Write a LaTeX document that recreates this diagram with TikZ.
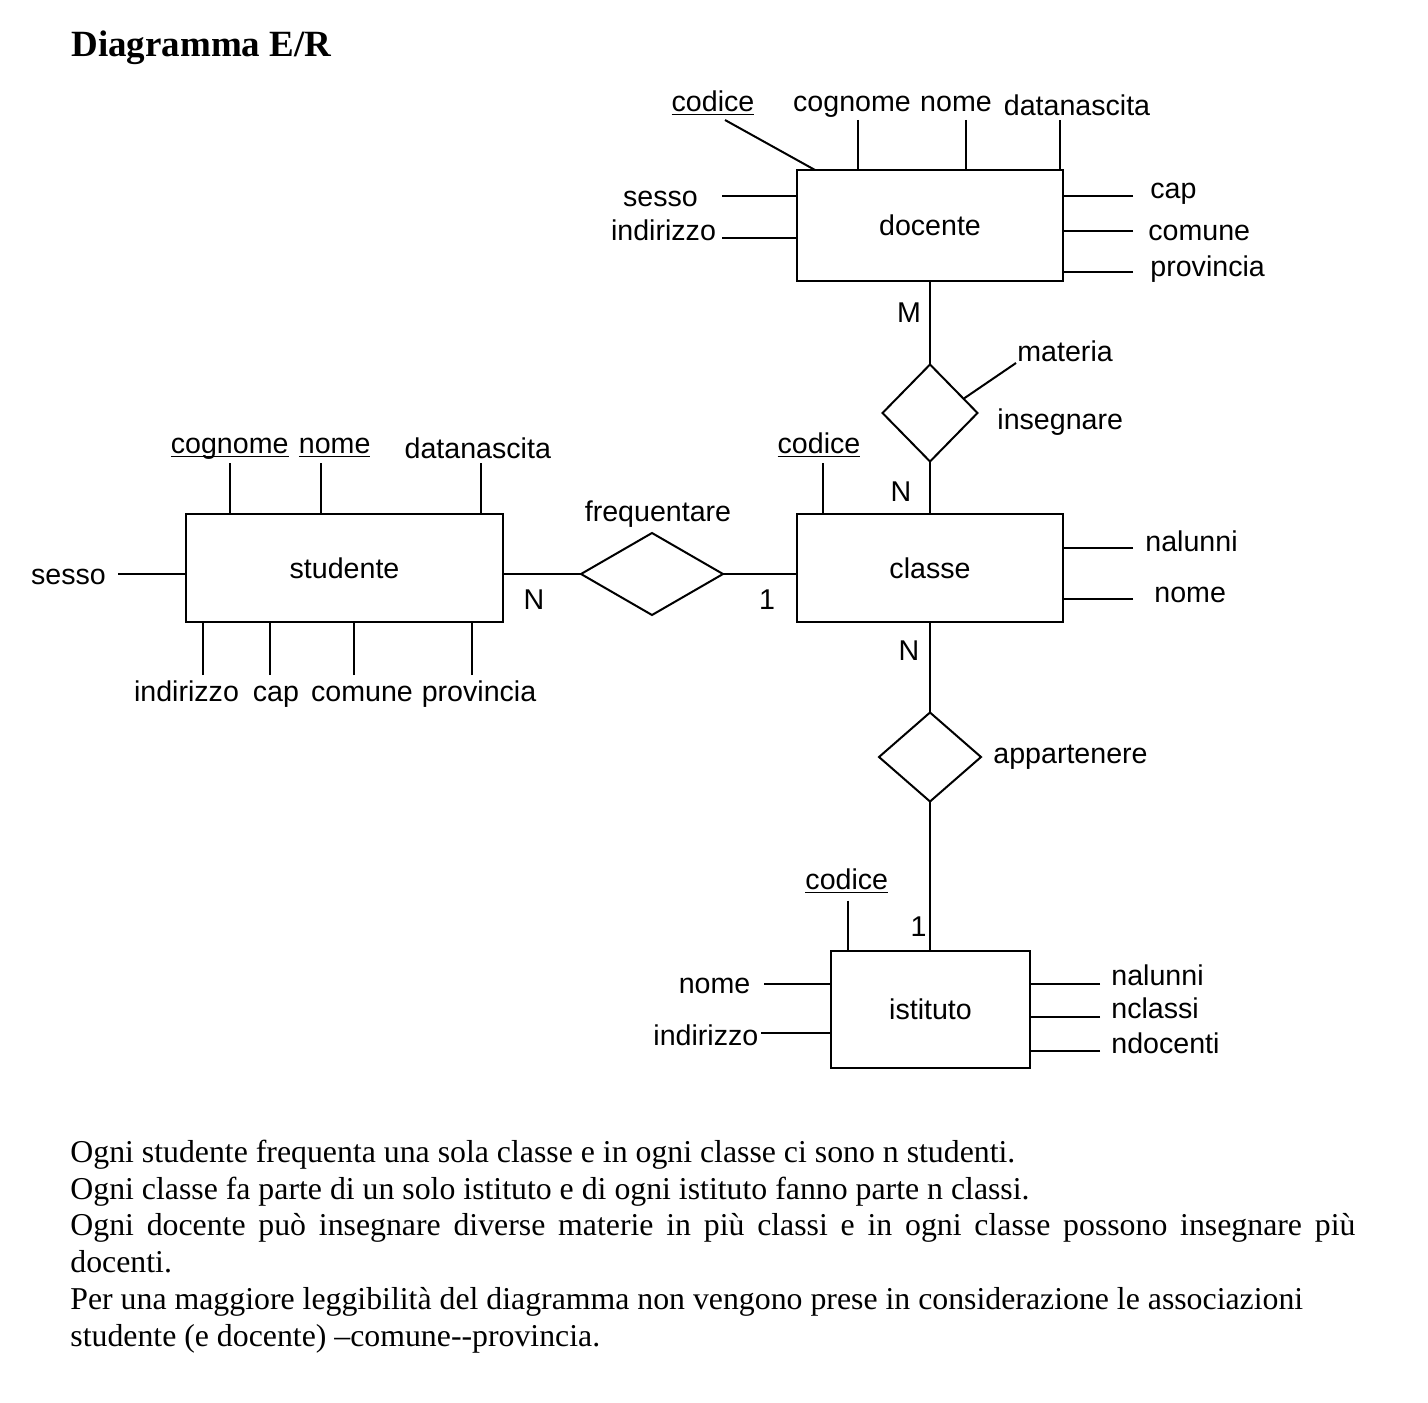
\documentclass[tikz,border=0pt]{standalone}
\usepackage{fontspec}
\setmainfont{Liberation Serif}
\setsansfont{Liberation Sans}
\usetikzlibrary{shapes.geometric}
\newcommand{\keyattr}[1]{\underline{\smash{#1}}}

\begin{document}
\begin{tikzpicture}[
    x=0.5pt, y=-0.5pt,
    entity/.style={rectangle, draw, line width=1pt, inner sep=0pt, outer sep=0pt, font=\sffamily\fontsize{14.3}{17}\selectfont},
    relation/.style={diamond, draw, line width=1pt, inner sep=0pt, outer sep=0pt},
    attr/.style={inner sep=0pt, anchor=base, font=\sffamily\fontsize{14.3}{17}\selectfont},
    link/.style={line width=1pt}
]
\useasboundingbox (0,0) rectangle (1428,1402);

% Title
\node[anchor=base west, inner sep=0pt, font=\bfseries\fontsize{18.5}{22}\selectfont] (title) at (71,56.7) {Diagramma E/R};

% Entities
\node[entity, minimum width=133pt, minimum height=55.5pt] (docente) at (930,225.5) {docente};
\node[entity, minimum width=133pt, minimum height=54pt] (classe) at (930,568) {classe};
\node[entity, minimum width=158.5pt, minimum height=54pt] (studente) at (344.5,568) {studente};
\node[entity, minimum width=99.5pt, minimum height=58.5pt] (istituto) at (930.5,1009) {istituto};

% Relationships
\node[relation, minimum width=47.5pt, minimum height=48.5pt] (insegnare) at (930,413) {};
\node[relation, minimum width=71pt, minimum height=41pt] (frequentare) at (652,574) {};
\node[relation, minimum width=51pt, minimum height=44.5pt] (appartenere) at (930,757) {};

\node[attr, anchor=base west] (linsegnare) at (997,429.3) {insegnare};
\node[attr] (lfrequentare) at (658,521.7) {frequentare};
\node[attr, anchor=base west] (lappartenere) at (993,763.3) {appartenere};
\node[attr, anchor=base west] (materia) at (1017,361.7) {materia};

% Cardinalities
\node[attr] (cM) at (909,322.7) {M};
\node[attr] (cN1) at (901,501) {N};
\node[attr] (cN2) at (534,609.3) {N};
\node[attr] (c1a) at (767,609) {1};
\node[attr] (cN3) at (909,660) {N};
\node[attr] (c1b) at (918.5,936.7) {1};

% Relationship lines
\draw[link] (docente.south) -- (insegnare.north);
\draw[link] (insegnare.south) -- (classe.north);
\draw[link] (classe.south) -- (appartenere.north);
\draw[link] (appartenere.south) -- (appartenere.south |- istituto.north);
\draw[link] (frequentare.west -| studente.east) -- (frequentare.west);
\draw[link] (frequentare.east) -- (frequentare.east -| classe.west);
\coordinate (materiaE) at (1016,363);
\draw[link] (insegnare.23) -- (materiaE);

% Attributes docente
\node[attr] (dcodice) at (713,112) {\keyattr{codice}};
\node[attr] (dcognome) at (852,112) {cognome};
\node[attr] (dnome) at (956,112) {nome};
\node[attr] (ddatanascita) at (1077,115) {datanascita};
\node[attr] (dsesso) at (660.5,206) {sesso};
\node[attr] (dindirizzo) at (663.5,240.7) {indirizzo};
\node[attr, anchor=base west] (dcap) at (1150,198) {cap};
\node[attr, anchor=base west] (dcomune) at (1148,240.7) {comune};
\node[attr, anchor=base west] (dprovincia) at (1150,276.7) {provincia};

\coordinate (dcodiceE) at (725,120);
\coordinate (dcognomeE) at (858,120);
\coordinate (dnomeE) at (966,120);
\coordinate (ddatanascitaE) at (1060,120);
\coordinate (dsessoE) at (722,196);
\coordinate (dindirizzoE) at (722,238);
\coordinate (dcapE) at (1133,196);
\coordinate (dcomuneE) at (1133,231);
\coordinate (dprovinciaE) at (1133,272);
\draw[link] (dcodiceE) -- ([xshift=9pt]docente.north west);
\draw[link] (dcognomeE) -- (dcognomeE |- docente.north);
\draw[link] (dnomeE) -- (dnomeE |- docente.north);
\draw[link] (ddatanascitaE) -- (ddatanascitaE |- docente.north);
\draw[link] (dsessoE) -- (dsessoE -| docente.west);
\draw[link] (dindirizzoE) -- (dindirizzoE -| docente.west);
\draw[link] (dcapE) -- (dcapE -| docente.east);
\draw[link] (dcomuneE) -- (dcomuneE -| docente.east);
\draw[link] (dprovinciaE) -- (dprovinciaE -| docente.east);

% Attributes classe
\node[attr] (ccodice) at (819,453.3) {\keyattr{codice}};
\node[attr, anchor=base west] (cnalunni) at (1145,551.7) {nalunni};
\node[attr, anchor=base west] (cnome) at (1154,602.7) {nome};
\coordinate (ccodiceE) at (823,463);
\coordinate (cnalunniE) at (1133,548);
\coordinate (cnomeE) at (1133,599);
\draw[link] (ccodiceE) -- (ccodiceE |- classe.north);
\draw[link] (cnalunniE) -- (cnalunniE -| classe.east);
\draw[link] (cnomeE) -- (cnomeE -| classe.east);

% Attributes studente
\node[attr] (scognome) at (229.7,453.3) {\keyattr{cognome}};
\node[attr] (snome) at (334.7,453.3) {\keyattr{nome}};
\node[attr] (sdatanascita) at (477.8,458.3) {datanascita};
\node[attr] (ssesso) at (68.5,584.3) {sesso};
\node[attr] (sindirizzo) at (186.5,701.7) {indirizzo};
\node[attr] (scap) at (276,701.7) {cap};
\node[attr] (scomune) at (362,701.7) {comune};
\node[attr] (sprovincia) at (479,701.7) {provincia};
\coordinate (scognomeE) at (230.4,463);
\coordinate (snomeE) at (320.7,463);
\coordinate (sdatanascitaE) at (480.7,463);
\coordinate (ssessoE) at (118,574.3);
\coordinate (sindirizzoE) at (202.6,675);
\coordinate (scapE) at (269.6,675);
\coordinate (scomuneE) at (354.4,675);
\coordinate (sprovinciaE) at (471.5,675);
\draw[link] (scognomeE) -- (scognomeE |- studente.north);
\draw[link] (snomeE) -- (snomeE |- studente.north);
\draw[link] (sdatanascitaE) -- (sdatanascitaE |- studente.north);
\draw[link] (ssessoE) -- (ssessoE -| studente.west);
\draw[link] (sindirizzoE) -- (sindirizzoE |- studente.south);
\draw[link] (scapE) -- (scapE |- studente.south);
\draw[link] (scomuneE) -- (scomuneE |- studente.south);
\draw[link] (sprovinciaE) -- (sprovinciaE |- studente.south);

% Attributes istituto
\node[attr] (icodice) at (846.8,889.3) {\keyattr{codice}};
\node[attr] (inome) at (714.6,993.3) {nome};
\node[attr] (iindirizzo) at (705.9,1045) {indirizzo};
\node[attr, anchor=base west] (inalunni) at (1111,985.7) {nalunni};
\node[attr, anchor=base west] (inclassi) at (1111,1018.3) {nclassi};
\node[attr, anchor=base west] (indocenti) at (1111,1053.3) {ndocenti};
\coordinate (icodiceE) at (848,900.7);
\coordinate (inomeE) at (764,984.3);
\coordinate (iindirizzoE) at (761,1032.7);
\coordinate (inalunniE) at (1100,984.3);
\coordinate (inclassiE) at (1100,1017.3);
\coordinate (indocentiE) at (1100,1050.7);
\draw[link] (icodiceE) -- (icodiceE |- istituto.north);
\draw[link] (inomeE) -- (inomeE -| istituto.west);
\draw[link] (iindirizzoE) -- (iindirizzoE -| istituto.west);
\draw[link] (inalunniE) -- (inalunniE -| istituto.east);
\draw[link] (inclassiE) -- (inclassiE -| istituto.east);
\draw[link] (indocentiE) -- (indocentiE -| istituto.east);

% Notes
\node[anchor=base west, inner sep=0pt, text width=642.5pt, align=justify, font=\fontsize{15.9}{18.35}\selectfont] (notes) at (70,1162.5) {%
Ogni studente frequenta una sola classe e in ogni classe ci sono n studenti.\par
Ogni classe fa parte di un solo istituto e di ogni istituto fanno parte n classi.\par
Ogni docente può insegnare diverse materie in più classi e in ogni classe possono insegnare più\linebreak docenti.\par
Per una maggiore leggibilità del diagramma non vengono prese in considerazione le associazioni\newline
studente (e docente) –comune-{}-provincia.};

\end{tikzpicture}
\end{document}
